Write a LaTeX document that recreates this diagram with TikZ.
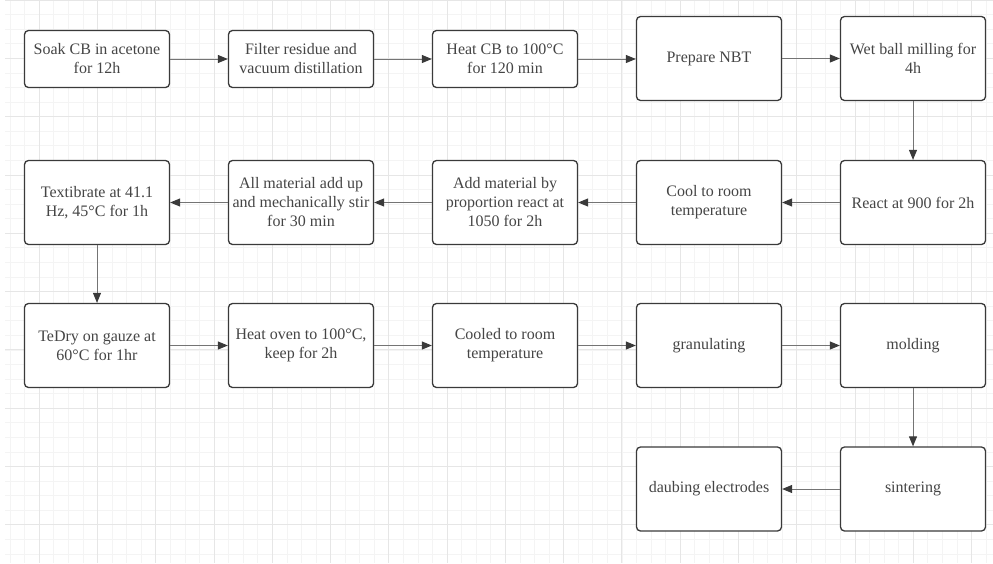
\documentclass[tikz,border=0pt]{standalone}
\usepackage{fontspec}
\setmainfont{Liberation Serif}
\usetikzlibrary{arrows.meta}
\definecolor{boxline}{HTML}{3A3A3A}
\definecolor{textgray}{HTML}{454545}
\definecolor{arrowgray}{HTML}{747474}
\definecolor{gridminor}{HTML}{F4F4F4}
\definecolor{gridmajor}{HTML}{E6E6E6}
\begin{document}
\begin{tikzpicture}[x=1pt, y=-1pt,
    >={Triangle[length=10pt,width=8pt,color=boxline]},
    box/.style={draw=boxline, line width=1.3pt, rounded corners=4pt, fill=white,
      text=textgray, minimum width=145pt, minimum height=84pt, inner sep=2pt,
      align=center, font=\fontsize{16}{19}\selectfont},
    shortbox/.style={box, minimum height=57pt},
    flow/.style={draw=arrowgray, line width=1pt, ->},
    minorline/.style={draw=gridminor, line width=0.8pt},
    majorline/.style={draw=gridmajor, line width=0.9pt}]
    \useasboundingbox (0,0) rectangle (993,563);

    % Draw background grid
    \foreach \i in {0,...,67}
        \draw[minorline] (10.2+14.565*\i,0) -- (10.2+14.565*\i,563);
    \foreach \j in {0,...,38}
        \draw[minorline] (5,14.58*\j) -- (993,14.58*\j);
    \foreach \i in {2,6,...,66}
        \draw[majorline] (10.2+14.565*\i,0) -- (10.2+14.565*\i,563);
    \foreach \j in {0,4,...,36}
        \draw[majorline] (5,14.58*\j) -- (993,14.58*\j);

    % Row 1
    \node[shortbox] (soak) at (97,59) {Soak CB in acetone\\for 12h};
    \node[shortbox] (filter) at (301,59) {Filter residue and\\vacuum distillation};
    \node[shortbox] (heatcb) at (505,59) {Heat CB to 100°C\\for 120 min};
    \node[box] (nbt) at (709,58.5) {Prepare NBT};
    \node[box] (milling) at (913,58.5) {Wet ball milling for\\4h};

    % Row 2
    \node[box] (react) at (913,202.5) {React at 900 for 2h};
    \node[box] (cool) at (709,202.5) {Cool to room\\temperature};
    \node[box] (addmat) at (505,202.5) {Add material by\\proportion react at\\1050 for 2h};
    \node[box] (stir) at (301,202.5) {All material add up\\and mechanically stir\\for 30 min};
    \node[box] (vibrate) at (97,202.5) {Textibrate at 41.1\\Hz, 45°C for 1h};

    % Row 3
    \node[box] (dry) at (97,345.5) {TeDry on gauze at\\60°C for 1hr};
    \node[box] (oven) at (301,345.5) {Heat oven to 100°C,\\keep for 2h};
    \node[box] (cooled) at (505,345.5) {Cooled to room\\temperature};
    \node[box] (granul) at (709,345.5) {granulating};
    \node[box] (mold) at (913,345.5) {molding};

    % Row 4
    \node[box] (sinter) at (913,489) {sintering};
    \node[box] (daub) at (709,489) {daubing electrodes};

    % Connectors
    \draw[flow] (soak) -- (filter);
    \draw[flow] (filter) -- (heatcb);
    \draw[flow] (heatcb.east) -- (nbt.west |- heatcb.east);
    \draw[flow] (nbt) -- (milling);
    \draw[flow] (milling) -- (react);
    \draw[flow] (react) -- (cool);
    \draw[flow] (cool) -- (addmat);
    \draw[flow] (addmat) -- (stir);
    \draw[flow] (stir) -- (vibrate);
    \draw[flow] (vibrate) -- (dry);
    \draw[flow] (dry) -- (oven);
    \draw[flow] (oven) -- (cooled);
    \draw[flow] (cooled) -- (granul);
    \draw[flow] (granul) -- (mold);
    \draw[flow] (mold) -- (sinter);
    \draw[flow] (sinter) -- (daub);
\end{tikzpicture}
\end{document}
